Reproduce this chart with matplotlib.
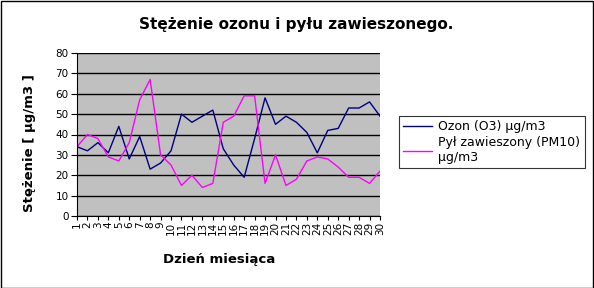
import matplotlib
matplotlib.use("Agg")
import matplotlib.pyplot as plt
from matplotlib.patches import Rectangle

days = list(range(1, 31))
ozon = [34, 32, 36, 31, 44, 28, 39, 23, 26, 32, 50, 46, 49, 52, 33,
        25, 19, 38, 58, 45, 49, 46, 41, 31, 42, 43, 53, 53, 56, 49]
pyl = [34, 40, 38, 29, 27, 36, 57, 67, 30, 25, 15, 20, 14, 16, 46,
       49, 59, 59, 16, 30, 15, 18, 27, 29, 28, 24, 19, 19, 16, 22]
xlabels = [str(d) for d in days]
yticks = list(range(0, 81, 10))

plt.rcParams['font.family'] = ['DejaVu Sans']
fig = plt.figure(figsize=(5.94, 2.88), dpi=100)
W, H = 594, 288
ax = fig.add_axes([77 / W, 1 - 216 / H, (380 - 77) / W, (216 - 53) / H])
ax.set_facecolor('#C0C0C0')
ax.plot(days, ozon, color='#000080', lw=1, label='Ozon (O3) µg/m3')
ax.plot(days, pyl, color='#FF00FF', lw=1, label='Pył zawieszony (PM10)\nµg/m3')
ax.set_xlim(1, 30)
ax.set_ylim(0, 80)
ax.set_yticks(yticks)
ax.set_xticks(days)
ax.set_xticklabels(xlabels, rotation=90, fontsize=7.5)
ax.tick_params(axis='y', labelsize=7.5, length=4, width=0.8, pad=2)
ax.tick_params(axis='x', length=3, width=0.8, pad=1)
ax.grid(axis='y', color='black', lw=1)
ax.set_axisbelow(True)
for s in ['top', 'right']:
    ax.spines[s].set_visible(False)
ax.spines['left'].set_linewidth(0.8)
ax.spines['bottom'].set_linewidth(0.8)

fig.text(219 / W, 1 - 260 / H, 'Dzień miesiąca', ha='center', va='center',
         fontsize=9.5, fontweight='bold')
fig.text(30 / W, 1 - 143 / H, 'Stężenie [ µg/m3 ]', ha='center', va='center',
         rotation=90, fontsize=9.5, fontweight='bold')
fig.text(296 / W, 1 - 25 / H, 'Stężenie ozonu i pyłu zawieszonego.', ha='center', va='center',
         fontsize=11, fontweight='bold')

leg = fig.legend(loc='upper left', bbox_to_anchor=(399 / W, 1 - 116 / H), fontsize=9,
                 frameon=True, fancybox=False, edgecolor='black', handlelength=2.3,
                 borderpad=0.35, labelspacing=0.2, handletextpad=0.5, borderaxespad=0)
leg.get_frame().set_linewidth(0.8)

fig.patches.append(Rectangle((0.5 / W, 0.5 / H), 1 - 1.5 / W, 1 - 1.5 / H, transform=fig.transFigure,
                             fill=False, edgecolor='black', lw=1))
fig.savefig('out.png', dpi=100)
